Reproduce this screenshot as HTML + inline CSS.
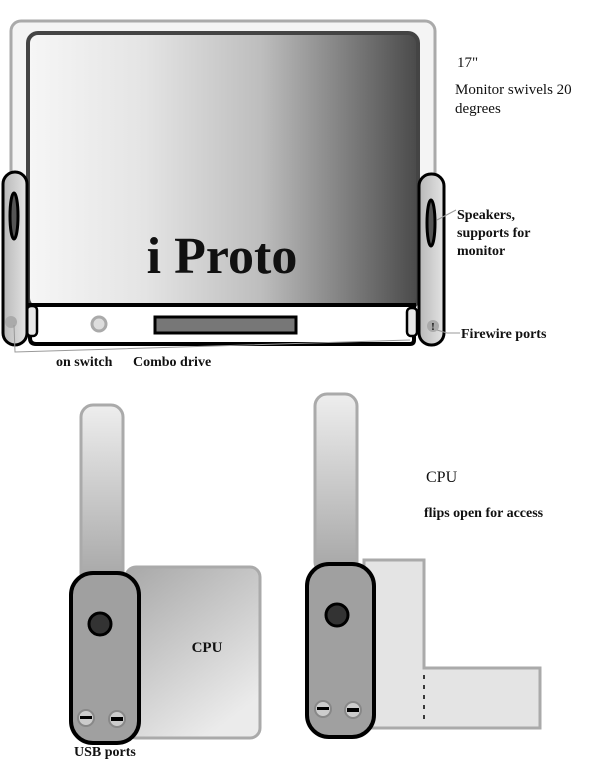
<!DOCTYPE html>
<html><head><style>
body{margin:0;background:#fff;}
svg{display:block;}
text{font-family:"Liberation Serif",serif;fill:#111;}
</style></head><body>
<svg width="600" height="780" viewBox="0 0 600 780" xmlns="http://www.w3.org/2000/svg">
<defs>
<linearGradient id="scr" x1="0" x2="1" y1="0" y2="0">
<stop offset="0" stop-color="#f6f6f6"/><stop offset="0.3" stop-color="#e4e4e4"/><stop offset="0.6" stop-color="#bdbdbd"/><stop offset="1" stop-color="#4a4a4a"/></linearGradient>
<linearGradient id="stk" x1="0" x2="0" y1="0" y2="1"><stop offset="0" stop-color="#eee"/><stop offset="1" stop-color="#a5a5a5"/></linearGradient>
<linearGradient id="side" x1="0" x2="1"><stop offset="0" stop-color="#b8b8b8"/><stop offset="1" stop-color="#e4e4e4"/></linearGradient>
<linearGradient id="cpu" x1="0" x2="0.6" y1="0" y2="1"><stop offset="0" stop-color="#a8a8a8"/><stop offset="1" stop-color="#ebebeb"/></linearGradient>
</defs>
<rect x="11" y="21" width="424" height="300" rx="10" fill="#f4f4f4" stroke="#aaa" stroke-width="3"/>
<rect x="28" y="33" width="390" height="275" rx="10" fill="url(#scr)" stroke="#444" stroke-width="4"/>
<text x="222" y="273" font-size="52" font-weight="bold" text-anchor="middle">i Proto</text>
<path d="M30 305 H414 V340 Q414 344 410 344 H36 Q30 344 30 338 Z" fill="#fff" stroke="#000" stroke-width="4"/>
<circle cx="99" cy="324" r="7" fill="#ddd" stroke="#aaa" stroke-width="3"/>
<rect x="155" y="317" width="141" height="16" fill="#777" stroke="#000" stroke-width="3"/>
<rect x="27" y="306" width="10" height="30" rx="4" fill="#e8e8e8" stroke="#000" stroke-width="2.5"/>
<rect x="407" y="308" width="10" height="28" rx="4" fill="#e8e8e8" stroke="#000" stroke-width="2.5"/>
<rect x="3" y="172" width="24" height="173" rx="12" fill="url(#side)" stroke="#000" stroke-width="3"/>
<ellipse cx="14" cy="216" rx="4" ry="23" fill="#555" stroke="#000" stroke-width="3"/>
<circle cx="11" cy="322" r="6" fill="#aaa"/>
<rect x="419" y="174" width="25" height="171" rx="12" fill="url(#side)" stroke="#000" stroke-width="3"/>
<ellipse cx="431" cy="223" rx="4" ry="23" fill="#555" stroke="#000" stroke-width="3"/>
<circle cx="433" cy="326" r="6" fill="#aaa"/>
<text x="433" y="330" font-size="11" font-weight="bold" text-anchor="middle">!</text>
<polyline points="14,325 15,352 410,340" fill="none" stroke="#999" stroke-width="1"/>
<line x1="437" y1="220" x2="456" y2="210" stroke="#999"/>
<polyline points="437,330 447,333 460,333" fill="none" stroke="#999"/>
<text x="457" y="67" font-size="15">17"</text>
<text x="455" y="94" font-size="15">Monitor swivels 20</text>
<text x="455" y="113" font-size="15">degrees</text>
<text x="457" y="219" font-size="14" font-weight="bold">Speakers,</text>
<text x="457" y="237" font-size="14" font-weight="bold">supports for</text>
<text x="457" y="255" font-size="14" font-weight="bold">monitor</text>
<text x="461" y="338" font-size="14" font-weight="bold">Firewire ports</text>
<text x="56" y="366" font-size="14" font-weight="bold">on switch</text>
<text x="133" y="366" font-size="14" font-weight="bold">Combo drive</text>
<rect x="81" y="405" width="42" height="180" rx="12" fill="url(#stk)" stroke="#aaa" stroke-width="3"/>
<rect x="126" y="567" width="134" height="171" rx="10" fill="url(#cpu)" stroke="#aaa" stroke-width="3"/>
<text x="207" y="652" font-size="15" font-weight="bold" text-anchor="middle">CPU</text>
<rect x="71" y="573" width="68" height="170" rx="22" fill="#a0a0a0" stroke="#000" stroke-width="4"/>
<circle cx="100" cy="624" r="11" fill="#333" stroke="#000" stroke-width="3"/>
<circle cx="86" cy="718" r="8" fill="#ccc" stroke="#888" stroke-width="2"/><rect x="80" y="716" width="12" height="3" fill="#000"/>
<circle cx="117" cy="719" r="8" fill="#ccc" stroke="#888" stroke-width="2"/><rect x="111" y="717" width="12" height="4" fill="#000"/>
<text x="74" y="756" font-size="14" font-weight="bold">USB ports</text>
<rect x="315" y="394" width="42" height="180" rx="12" fill="url(#stk)" stroke="#aaa" stroke-width="3"/>
<path d="M364 560 H424 V668 H540 V728 H364 Z" fill="#e4e4e4" stroke="#aaa" stroke-width="3"/>
<line x1="424" y1="675" x2="424" y2="722" stroke="#000" stroke-width="1.5" stroke-dasharray="4,6"/>
<rect x="307" y="564" width="67" height="173" rx="22" fill="#a0a0a0" stroke="#000" stroke-width="4"/>
<circle cx="337" cy="615" r="11" fill="#333" stroke="#000" stroke-width="3"/>
<circle cx="323" cy="709" r="8" fill="#ccc" stroke="#888" stroke-width="2"/><rect x="317" y="707" width="12" height="3" fill="#000"/>
<circle cx="353" cy="710" r="8" fill="#ccc" stroke="#888" stroke-width="2"/><rect x="347" y="708" width="12" height="4" fill="#000"/>
<text x="426" y="482" font-size="16">CPU</text>
<text x="424" y="517" font-size="14" font-weight="bold">flips open for access</text>
</svg>
</body></html>
